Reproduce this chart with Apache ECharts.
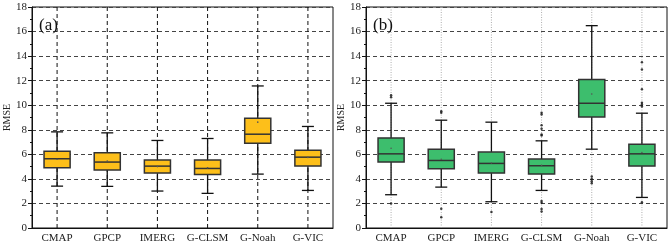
<!DOCTYPE html>
<html>
<head>
<meta charset="utf-8">
<script src="https://cdn.jsdelivr.net/npm/echarts@6/dist/echarts.min.js"></script>
<style>
  html, body { margin: 0; padding: 0; background: #fff; }
  #chart { width: 668px; height: 244px; }
</style>
</head>
<body>
<div id="chart"></div>
<script>
const categories = ['CMAP', 'GPCP', 'IMERG', 'G-CLSM', 'G-Noah', 'G-VIC'];

// [low whisker, Q1, median, Q3, high whisker, mean]
const boxesA = [
    [3.41, 4.90, 5.64, 6.26, 7.83, 5.60],
    [3.39, 4.72, 5.37, 6.12, 7.75, 5.45],
    [3.01, 4.47, 5.04, 5.53, 7.13, 5.00],
    [2.82, 4.36, 4.85, 5.53, 7.29, 4.90],
    [4.39, 6.91, 7.64, 8.94, 11.57, 8.62],
    [3.06, 5.04, 5.77, 6.34, 8.27, 5.75]
];
const boxesB = [
    [2.71, 5.37, 6.04, 7.34, 10.16, 6.50],
    [3.33, 4.82, 5.50, 6.42, 8.78, 5.60],
    [2.14, 4.47, 5.26, 6.18, 8.62, 5.30],
    [3.06, 4.39, 5.07, 5.61, 7.10, 5.10],
    [6.42, 9.05, 10.16, 12.09, 16.48, 10.92],
    [2.49, 5.04, 6.04, 6.83, 9.35, 6.15]
];
// outliers per category, panel (b)
const outliersB = [
    [10.81, 10.65, 2.0],
    [9.51, 9.38, 1.57, 0.87],
    [1.30],
    [9.38, 9.24, 8.37, 8.08, 7.62, 7.53, 2.2, 2.05, 1.55, 1.35],
    [4.2, 4.0, 3.8, 3.65],
    [13.5, 12.9, 11.3, 10.2, 10.05, 9.9, 2.1]
];
const yTicks = { min: 0, max: 18, interval: 2 };

const serif = 'Liberation Serif';

function boxRenderer(vlineStyle) {
    return function (params, api) {
        const x = api.value(0);
        const pLo = api.coord([x, api.value(1)]);
        const pQ1 = api.coord([x, api.value(2)]);
        const pMed = api.coord([x, api.value(3)]);
        const pQ3 = api.coord([x, api.value(4)]);
        const pHi = api.coord([x, api.value(5)]);
        const pMean = api.coord([x, api.value(6)]);
        const pTop = api.coord([x, yTicks.max]);
        const pBot = api.coord([x, yTicks.min]);
        const bw = api.size([1, 0])[0] * 0.52;
        const cap = bw * 0.46;
        const cx = pMed[0];
        const stroke = { stroke: '#111', lineWidth: 1.3 };
        return {
            type: 'group',
            children: [
                { type: 'line', shape: { x1: cx, y1: pTop[1], x2: cx, y2: pBot[1] }, style: vlineStyle, silent: true },
                { type: 'line', shape: { x1: cx, y1: pLo[1], x2: cx, y2: pQ1[1] }, style: stroke },
                { type: 'line', shape: { x1: cx, y1: pQ3[1], x2: cx, y2: pHi[1] }, style: stroke },
                { type: 'line', shape: { x1: cx - cap / 2, y1: pLo[1], x2: cx + cap / 2, y2: pLo[1] }, style: stroke },
                { type: 'line', shape: { x1: cx - cap / 2, y1: pHi[1], x2: cx + cap / 2, y2: pHi[1] }, style: stroke },
                { type: 'rect', shape: { x: cx - bw / 2, y: pQ3[1], width: bw, height: pQ1[1] - pQ3[1] },
                  style: { fill: api.visual('color'), stroke: '#333', lineWidth: 1.5 } },
                { type: 'line', shape: { x1: cx - bw / 2, y1: pMed[1], x2: cx + bw / 2, y2: pMed[1] }, style: { stroke: '#333', lineWidth: 1.5 } },
                { type: 'circle', shape: { cx: cx, cy: pMean[1], r: 0.8 }, style: { fill: '#555' } }
            ]
        };
    };
}

function makeX(gridIndex) {
    return {
        type: 'category', gridIndex: gridIndex, data: categories,
        axisLine: { lineStyle: { color: '#111', width: 1 } },
        axisTick: { show: false },
        axisLabel: { interval: 0, fontFamily: serif, fontSize: 11, color: '#222', margin: 5 },
        splitLine: { show: false }
    };
}
function makeY(gridIndex) {
    return {
        type: 'value', gridIndex: gridIndex, min: yTicks.min, max: yTicks.max, interval: yTicks.interval,
        name: 'RMSE', nameLocation: 'middle', nameGap: 20,
        nameTextStyle: { fontFamily: serif, fontSize: 10, color: '#222' },
        axisLine: { show: true, lineStyle: { color: '#111', width: 1 } },
        axisTick: { show: true, length: 4, lineStyle: { color: '#111' } },
        minorTick: { show: true, splitNumber: 2, length: 2, lineStyle: { color: '#111' } },
        axisLabel: { fontFamily: serif, fontSize: 11, color: '#222', margin: 5 },
        splitLine: { show: true, lineStyle: { color: '#444', type: [4, 3], width: 1 } }
    };
}

const boxDataA = boxesA.map((b, i) => [i].concat(b));
const boxDataB = boxesB.map((b, i) => [i].concat(b));
const outlierData = [];
outliersB.forEach((list, i) => list.forEach(v => outlierData.push([i, v])));

const chart = echarts.init(document.getElementById('chart'));
chart.setOption({
    animation: false,
    textStyle: { fontFamily: serif },
    title: [
        { text: '(a)', left: 34, top: 12, textStyle: { fontFamily: serif, fontSize: 17, fontWeight: 'normal', color: '#111' } },
        { text: '(b)', left: 368, top: 12, textStyle: { fontFamily: serif, fontSize: 17, fontWeight: 'normal', color: '#111' } }
    ],
    grid: [
        { left: 32, top: 7, width: 301, height: 222, show: true, borderColor: '#111', borderWidth: 1 },
        { left: 366, top: 7, width: 301, height: 222, show: true, borderColor: '#111', borderWidth: 1 }
    ],
    xAxis: [makeX(0), makeX(1)],
    yAxis: [makeY(0), makeY(1)],
    series: [
        {
            type: 'custom', xAxisIndex: 0, yAxisIndex: 0,
            itemStyle: { color: '#FDBF1A' },
            renderItem: boxRenderer({ stroke: '#111', lineWidth: 1, lineDash: [4, 3] }),
            encode: { x: 0, y: [1, 2, 3, 4, 5] },
            data: boxDataA
        },
        {
            type: 'custom', xAxisIndex: 1, yAxisIndex: 1,
            itemStyle: { color: '#3DBE6D' },
            renderItem: boxRenderer({ stroke: '#999', lineWidth: 0.8, lineDash: [1, 1.5] }),
            encode: { x: 0, y: [1, 2, 3, 4, 5] },
            data: boxDataB
        },
        {
            type: 'scatter', xAxisIndex: 1, yAxisIndex: 1,
            symbol: 'circle', symbolSize: 2.5,
            itemStyle: { color: '#111' },
            data: outlierData
        }
    ]
});
</script>
</body>
</html>
